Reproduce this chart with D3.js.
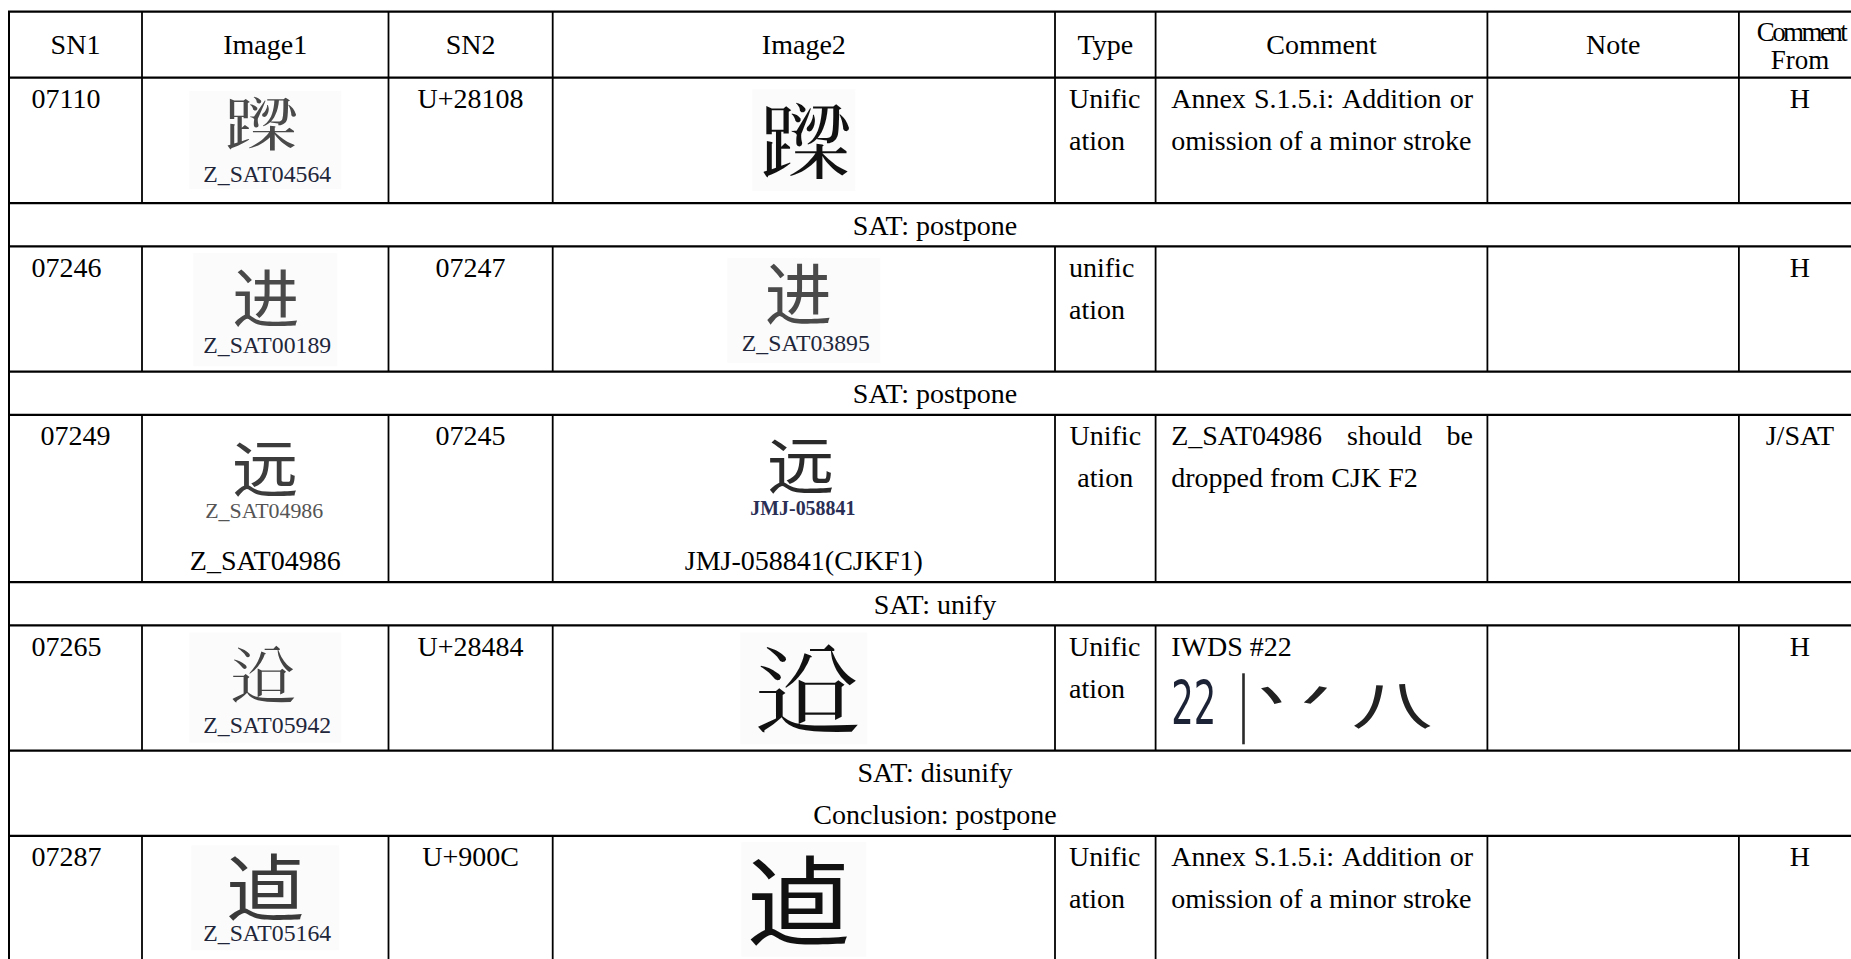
<!DOCTYPE html>
<html><head><meta charset="utf-8">
<script src="https://cdn.jsdelivr.net/npm/d3@7"></script>
<style>
html,body{margin:0;padding:0;background:#fff;overflow:hidden}
svg{display:block}
</style></head><body>
<svg id="c" width="1851" height="959"></svg>
<script>
// ---------------- data ----------------
const headers = [["SN1"],["Image1"],["SN2"],["Image2"],["Type"],["Comment"],["Note"],["Comment","From"]];
const sn1 = ["07110","07246","07249","07265","07287"];
const image1Glyphs = ["\u{28108}","进","远","\u{28484}","逌"];
const image1Labels = ["Z_SAT04564","Z_SAT00189","Z_SAT04986","Z_SAT05942","Z_SAT05164"];
const image1Captions = ["","","Z_SAT04986","",""];
const sn2 = ["U+28108","07247","07245","U+28484","U+900C"];
const image2Glyphs = ["\u{28108}","进","远","\u{28484}","逌"];
const image2Labels = ["","Z_SAT03895","JMJ-058841","",""];
const image2Captions = ["","","JMJ-058841(CJKF1)","",""];
const types = [["Unific","ation"],["unific","ation"],["Unific","ation"],["Unific","ation"],["Unific","ation"]];
const comments = [
  ["Annex S.1.5.i: Addition or","omission of a minor stroke"],
  [],
  ["Z_SAT04986 should be","dropped from CJK F2"],
  ["IWDS #22"],
  ["Annex S.1.5.i: Addition or","omission of a minor stroke"]
];
const notes = ["","","","",""];
const commentFrom = ["H","H","J/SAT","H","H"];
const decisions = [["SAT: postpone"],["SAT: postpone"],["SAT: unify"],["SAT: disunify","Conclusion: postpone"]];
const rowLines = [3,3,4,3,3];
const centeredRows = [false,false,true,false,false];
const iwdsStrokes = ["22","丷","八"];

// ---------------- layout / style ----------------
const SERIF = '"Liberation Serif","Times New Roman",serif';
const CJK = '"Noto Sans CJK SC","Noto Sans CJK TC","Noto Sans CJK JP","Noto Sans CJK KR",sans-serif';
const FS = 28;
const colEdges = [9,142,388.5,552.7,1055,1155.6,1487.4,1738.9,1861];
const x = d3.scaleLinear().domain(d3.range(colEdges.length)).range(colEdges);

const rows = [{kind:"header", h:66}];
sn1.forEach((d,i)=>{
  rows.push({kind:"data", i, h: rowLines[i]*41.8});
  if (i < decisions.length) rows.push({kind:"decision", i, h: decisions[i].length*42+1.2});
});
const yEdges = [11.7];
rows.forEach(r => yEdges.push(yEdges[yEdges.length-1] + r.h));
const y = d3.scaleLinear().domain(d3.range(yEdges.length)).range(yEdges);
rows.forEach((r,k)=>{ r.k = k; r.top = y(k); r.bottom = y(k+1); });
const dataRows = rows.filter(r=>r.kind==="data");

// per-image placement (relative to column centre / row top)
const img1Layout = [
  {dx:-3.5, cy:46.7, w:64, h:53, ly:104,   bg:[152,13.3,111.3], col:"#4a4a4a"},
  {dx:0.7,  cy:51.5, w:58, h:56, ly:106.5, bg:[144,6.7,120],   col:"#4a4a4a"},
  {dx:0,    cy:53.5, w:57, h:55, ly:103.5, bg:null,            col:"#3c3c3c"},
  {dx:-2,   cy:49.3, w:57, h:56, ly:107.5, bg:[152,7.3,117.3], col:"#444"},
  {dx:0,    cy:51.5, w:68, h:64, ly:104.8, bg:[148,9.4,114.4], col:"#3a3a3a"}
];
const img2Layout = [
  {dx:1,    cy:64.1, w:80, h:75, ly:0,     bg:[103,11.6,113.3], col:"#111"},
  {dx:-5.5, cy:47.5, w:58, h:60, ly:104.5, bg:[153,11.7,116.7], col:"#4a4a4a"},
  {dx:-3,   cy:50.2, w:58, h:55, ly:100.5, bg:null,             col:"#2a2a2a"},
  {dx:3.7,  cy:64,   w:92, h:87, ly:0,     bg:[127,7.3,119],    col:"#111"},
  {dx:-5.5, cy:65.2, w:90, h:86, ly:0,     bg:[125,6,120.7],    col:"#111"}
];

const svg = d3.select("#c");
svg.append("rect").attr("width",1851).attr("height",959).attr("fill","#fff");

// ---------- images ----------
const gImg = svg.append("g");
function drawImage(colIdx, glyphs, labels, layout){
  dataRows.forEach(r=>{
    const i = r.i, L = layout[i];
    const cx = x(colIdx+0.5);
    if (L.bg) {
      gImg.append("rect")
        .attr("x", cx - L.bg[0]/2).attr("width", L.bg[0])
        .attr("y", r.top + L.bg[1]).attr("height", L.bg[2]-L.bg[1])
        .attr("fill","#fbfbfb");
    }
    const fs = L.h/0.88;
    const sx = L.w/(L.h*0.98);
    gImg.append("text")
      .attr("transform", `translate(${cx+L.dx},${r.top+L.cy+0.38*fs}) scale(${sx},1)`)
      .attr("text-anchor","middle")
      .style("font-family", CJK).style("font-size", fs+"px")
      .attr("fill", L.col)
      .text(glyphs[i]);
    if (labels[i]) {
      const small = i===2;
      gImg.append("text")
        .attr("x", cx + (small? -1 : 2)).attr("y", r.top + L.ly)
        .attr("text-anchor","middle")
        .style("font-family", SERIF)
        .style("font-size", (small? 20 : 23)+"px")
        .style("font-weight", (colIdx===3 && small) ? "bold" : "normal")
        .attr("textLength", small ? (colIdx===3 ? 105 : 118) : 128)
        .attr("lengthAdjust","spacingAndGlyphs")
        .attr("fill", small ? (colIdx===3 ? "#2b2f55" : "#555") : "#22263a")
        .text(labels[i]);
    }
  });
}
drawImage(1, image1Glyphs, image1Labels, img1Layout);
drawImage(3, image2Glyphs, image2Labels, img2Layout);

// ---------- text helpers ----------
const gTxt = svg.append("g").style("font-family", SERIF).style("font-size", FS+"px").attr("fill","#000");
function txt(s, xx, yy, anchor){
  return gTxt.append("text").attr("x",xx).attr("y",yy).attr("text-anchor",anchor||"start").text(s);
}

// header
headers.forEach((h,c)=>{
  const cx = x(c+0.5);
  if (h.length===1) txt(h[0], cx, y(0)+42.5, "middle");
  else {
    txt(h[0], cx+1, y(0)+29, "middle").style("font-size","27px").style("letter-spacing","-2.6px");
    txt(h[1], cx, y(0)+57.5, "middle").style("font-size","27px");
  }
});

// data rows
const BASE = 30.5, LEAD = 42;
dataRows.forEach(r=>{
  const i = r.i, b0 = r.top + BASE;
  if (centeredRows[i]) txt(sn1[i], x(0.5), b0, "middle");
  else txt(sn1[i], x(0)+22.6, b0);
  txt(sn2[i], x(2.5), b0, "middle");
  if (image1Captions[i]) txt(image1Captions[i], x(1.5), b0 + 3*LEAD-1.5, "middle");
  if (image2Captions[i]) txt(image2Captions[i], x(3.5), b0 + 3*LEAD-1.5, "middle");
  types[i].forEach((s,k)=>{
    if (centeredRows[i]) txt(s, x(4.5), b0 + k*LEAD, "middle");
    else txt(s, x(4)+14, b0 + k*LEAD);
  });
  const cl = x(5)+15.6, cr = x(6)-14.4;
  comments[i].forEach((s,k)=>{
    const yy = b0 + k*LEAD;
    const last = k === comments[i].length-1;
    if (last) { txt(s, cl, yy); return; }
    const words = s.split(" ");
    const nodes = words.map(w=>txt(w, cl, yy));
    const widths = nodes.map(n=>n.node().getComputedTextLength());
    const gap = (cr - cl - d3.sum(widths)) / (words.length-1);
    let xx = cl;
    nodes.forEach((n,j)=>{ n.attr("x", xx); xx += widths[j] + gap; });
  });
  if (notes[i]) txt(notes[i], x(6)+15, b0);
  txt(commentFrom[i], x(7.5), b0, "middle");
});

// IWDS stroke image inside row 4 comment
(function(){
  const r = dataRows[3], cl = x(5)+15.6;
  gTxt.append("text").attr("x", cl).attr("y", r.top+99)
    .style("font-family",'"Liberation Sans Narrow","DejaVu Sans Condensed","Liberation Sans",sans-serif')
    .style("font-size","60px").attr("textLength",45).attr("lengthAdjust","spacingAndGlyphs")
    .attr("fill","#1d2336").text(iwdsStrokes[0]);
  gTxt.append("rect").attr("x", cl+71).attr("y", r.top+48).attr("width",2.6).attr("height",71).attr("fill","#2a2a2a");
  gTxt.append("text").attr("transform",`translate(${cl+123},${r.top+92}) scale(1.9,1.05)`)
    .attr("text-anchor","middle").style("font-family",CJK).style("font-size","52px")
    .attr("fill","#222").text(iwdsStrokes[1]);
  gTxt.append("text").attr("transform",`translate(${cl+221},${r.top+100}) scale(1.45,0.95)`)
    .attr("text-anchor","middle").style("font-family",CJK).style("font-size","56px")
    .attr("fill","#222").text(iwdsStrokes[2]);
})();

// decision rows
rows.filter(r=>r.kind==="decision").forEach(r=>{
  decisions[r.i].forEach((s,k)=>{
    txt(s, (x(0)+x(8))/2, r.top + 31.6 + k*41.7, "middle");
  });
});

// ---------- grid ----------
const gGrid = svg.append("g").attr("stroke","#000");
yEdges.forEach(yy=>{
  gGrid.append("line").attr("x1", x(0)-1).attr("x2", x(8)+1).attr("y1", yy).attr("y2", yy).attr("stroke-width",2.2);
});
[0,8].forEach(c=>{
  gGrid.append("line").attr("x1", x(c)).attr("x2", x(c)).attr("y1", y(0)).attr("y2", y(rows.length)).attr("stroke-width",2);
});
rows.filter(r=>r.kind!=="decision").forEach(r=>{
  d3.range(1,8).forEach(c=>{
    gGrid.append("line").attr("x1", x(c)).attr("x2", x(c)).attr("y1", r.top).attr("y2", r.bottom).attr("stroke-width",1.8);
  });
});
</script>
</body></html>
